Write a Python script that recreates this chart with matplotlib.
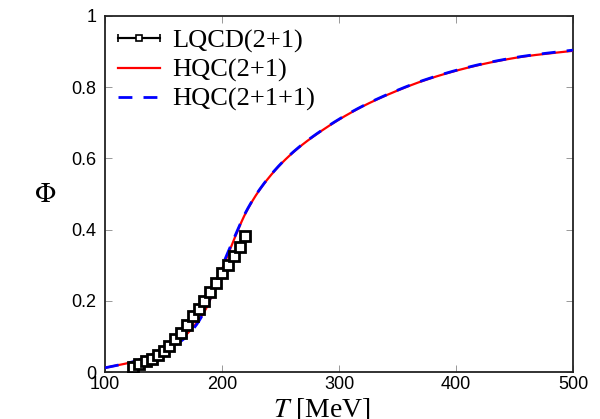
import numpy as np
import matplotlib
matplotlib.use("Agg")
import matplotlib.pyplot as plt
from matplotlib.container import ErrorbarContainer
from matplotlib.legend_handler import HandlerErrorbar

# LQCD(2+1) Polyakov loop points
lqcd_T = [124, 129, 135, 140, 145, 150, 155, 160, 165, 170,
          175, 180, 185, 190, 195, 200, 205, 210, 215, 220]
lqcd_phi = [0.015, 0.024, 0.030, 0.036, 0.047, 0.060, 0.074, 0.092, 0.110, 0.131,
            0.157, 0.178, 0.200, 0.225, 0.251, 0.277, 0.301, 0.326, 0.350, 0.382]
lqcd_err = [0.003, 0.003, 0.003, 0.003, 0.003, 0.004, 0.004, 0.004, 0.004, 0.005,
            0.005, 0.005, 0.005, 0.005, 0.006, 0.006, 0.006, 0.006, 0.007, 0.007]

# HQC(2+1)
hqc21_T = [100, 124, 141, 156, 167, 178, 187, 198, 210, 220, 232, 250,
           267, 284, 301, 322, 346, 372, 401, 429, 458, 500]
hqc21_phi = [0.012, 0.029, 0.050, 0.074, 0.098, 0.137, 0.182, 0.272, 0.370,
             0.445, 0.511, 0.583, 0.634, 0.675, 0.711, 0.749, 0.785, 0.818, 0.847,
             0.869, 0.886, 0.902]

# HQC(2+1+1)
hqc211_T = [100, 124, 141, 156, 167, 178, 187, 198, 210, 220, 232, 250,
            267, 284, 301, 322, 346, 372, 401, 429, 458, 500]
hqc211_phi = [0.012, 0.029, 0.047, 0.069, 0.092, 0.132, 0.184, 0.280, 0.374,
              0.447, 0.512, 0.584, 0.635, 0.676, 0.712, 0.750, 0.786, 0.819, 0.848,
              0.870, 0.887, 0.904]

x_ticks = [100, 200, 300, 400, 500]
y_ticks = [0, 0.2, 0.4, 0.6, 0.8, 1]
y_tick_labels = ["0", "0.2", "0.4", "0.6", "0.8", "1"]


def pchip(x, y, xn):
    """Monotone cubic (Fritsch-Carlson) interpolation of the read-off points."""
    x = np.asarray(x, float)
    y = np.asarray(y, float)
    h = np.diff(x)
    d = np.diff(y) / h
    m = np.zeros_like(y)
    for k in range(1, len(x) - 1):
        if d[k - 1] * d[k] > 0:
            w1 = 2 * h[k] + h[k - 1]
            w2 = h[k] + 2 * h[k - 1]
            m[k] = (w1 + w2) / (w1 / d[k - 1] + w2 / d[k])
    m[0] = d[0]
    m[-1] = d[-1]
    idx = np.clip(np.searchsorted(x, xn) - 1, 0, len(x) - 2)
    t = (xn - x[idx]) / h[idx]
    h00 = 2 * t**3 - 3 * t**2 + 1
    h10 = t**3 - 2 * t**2 + t
    h01 = -2 * t**3 + 3 * t**2
    h11 = t**3 - t**2
    return (h00 * y[idx] + h10 * h[idx] * m[idx]
            + h01 * y[idx + 1] + h11 * h[idx] * m[idx + 1])


def main():
    plt.rcParams['font.family'] = ['Liberation Sans', 'DejaVu Sans']
    fig = plt.figure(figsize=(6.0, 4.19), dpi=100)
    ax = fig.add_axes([0.175, 0.112, 0.78, 0.85])

    tt = np.linspace(100, 500, 600)
    ax.plot(tt, pchip(hqc21_T, hqc21_phi, tt), color='#ff0000', lw=1.6,
            label='HQC(2+1)', zorder=3)
    ax.plot(tt, pchip(hqc211_T, hqc211_phi, tt), color='#0000ff', lw=2.0,
            ls=(0, (5, 4)), label='HQC(2+1+1)', zorder=4)

    ax.errorbar(lqcd_T, lqcd_phi, yerr=lqcd_err, fmt='s', ms=6.5, mfc='white',
                mec='black', mew=2.0, ecolor='black', elinewidth=1.0,
                capsize=0, zorder=5)
    # proxy for the legend (horizontal bar with caps)
    proxy = ax.errorbar([np.nan], [np.nan], xerr=[1], fmt='s-', ms=4,
                        mfc='white', mec='black', mew=1.2, color='black',
                        lw=1.5, capsize=3)

    ax.set_xlim(100, 500)
    ax.set_ylim(0, 1)
    ax.set_xticks(x_ticks)
    ax.set_yticks(y_ticks)
    ax.set_yticklabels(y_tick_labels)
    ax.tick_params(direction='in', length=5, width=0.6, color='#888888',
                   top=True, right=True, labelsize=13)
    ax.tick_params(axis='x', pad=3)
    ax.tick_params(axis='y', pad=6)
    for sp in ax.spines.values():
        sp.set_linewidth(1.3)
        sp.set_color('#222222')

    ax.set_xlabel(r'$T$ [MeV]', family='Liberation Serif', fontsize=20,
                  math_fontfamily='stix')
    ax.xaxis.set_label_coords(0.464, -0.105)
    ax.xaxis.label.set_va('center')
    ax.set_ylabel(r'$\Phi$', fontsize=20, rotation=0, math_fontfamily='stix')
    ax.yaxis.set_label_coords(-0.128, 0.497)
    ax.yaxis.label.set_va('center')

    handles, labels = ax.get_legend_handles_labels()
    handles = [proxy] + [h for h in handles if not isinstance(h, ErrorbarContainer)]
    labels = ['LQCD(2+1)', 'HQC(2+1)', 'HQC(2+1+1)']
    ax.legend(handles, labels, loc='upper left', frameon=False,
              prop={'family': 'Liberation Serif', 'size': 19},
              handlelength=1.6, handletextpad=0.45, labelspacing=0.2,
              borderaxespad=0.1, numpoints=1,
              handler_map={ErrorbarContainer: HandlerErrorbar(xerr_size=0.8)})

    fig.savefig('out.png', dpi=100)


if __name__ == "__main__":
    main()
